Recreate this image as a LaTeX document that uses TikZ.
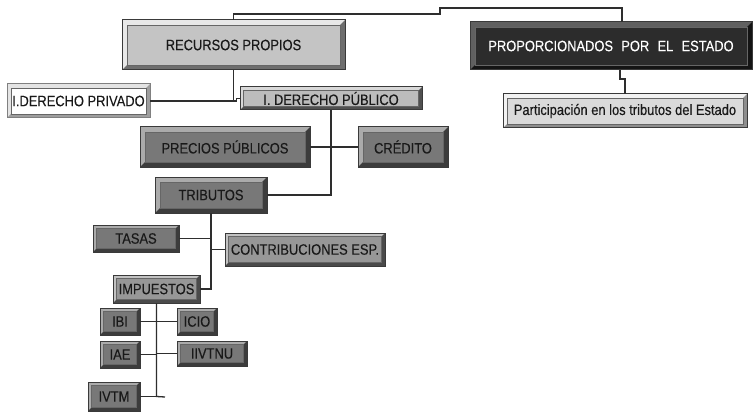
\documentclass[tikz,border=0pt]{standalone}
\usepackage{fontspec}
\setmainfont{Liberation Sans}[FakeStretch=0.86,FakeBold=0.3]
\definecolor{lineC}{HTML}{2E2E2E}
\definecolor{edgeC}{HTML}{3A3A3A}
\tikzset{
  bw/.code={\def\bw{#1}}, bw=5pt,
  box/.style={rectangle, inner sep=0pt, outer sep=0pt, text=black!90,
    font=\fontsize{15}{17}\selectfont, draw=edgeC, line width=1pt},
  bev/.style n args={3}{fill=#1,
    path picture={
      \path (path picture bounding box.south west) coordinate (bsw)
            (path picture bounding box.north east) coordinate (bne);
      \path (bsw -| bne) coordinate (bse);
      \fill[#2] (bsw) rectangle (bne);
      \fill[#3] (bsw) -- (bse) -- (bne) -- ([shift={(-\bw,-\bw)}]bne)
            -- ([shift={(-\bw,\bw)}]bse) -- ([shift={(\bw,\bw)}]bsw) -- cycle;
      \fill[#1] ([shift={(\bw,\bw)}]bsw) rectangle ([shift={(-\bw,-\bw)}]bne);
      \draw[black!60, line width=0.6pt] ([shift={(\bw,\bw)}]bsw) rectangle ([shift={(-\bw,-\bw)}]bne);
    }},
  grpA/.style={bev={rpF}{rpL}{rpD}},
  grpE/.style={bev={peF}{peL}{peD}, text=white},
  grpP/.style={bev={paF}{paL}{paD}, bw=4pt},
  grpV/.style={bev={white}{pvL}{pvD}, draw=black!50, bw=4pt},
  grpU/.style={bev={puF}{puL}{puD}, bw=3.5pt},
  grpM/.style={bev={mdF}{mdL}{mdD}},
  grpS/.style={bev={mdF}{mdL}{mdD}, bw=3.5pt},
  grpC/.style={bev={ltF}{ltL}{ltD}, bw=3.5pt},
  link/.style={draw=lineC, line width=1.3pt}
}
\definecolor{rpF}{HTML}{C4C4C4}\definecolor{rpL}{HTML}{E8E8E8}\definecolor{rpD}{HTML}{6E6E6E}
\definecolor{peF}{HTML}{2C2C2C}\definecolor{peL}{HTML}{606060}\definecolor{peD}{HTML}{141414}
\definecolor{paF}{HTML}{DADADA}\definecolor{paL}{HTML}{F2F2F2}\definecolor{paD}{HTML}{8E8E8E}
\definecolor{pvL}{HTML}{E4E4E4}\definecolor{pvD}{HTML}{9E9E9E}
\definecolor{puF}{HTML}{BCBCBC}\definecolor{puL}{HTML}{D8D8D8}\definecolor{puD}{HTML}{505050}
\definecolor{mdF}{HTML}{787878}\definecolor{mdL}{HTML}{ABABAB}\definecolor{mdD}{HTML}{3C3C3C}
\definecolor{ltF}{HTML}{979797}\definecolor{ltL}{HTML}{C2C2C2}\definecolor{ltD}{HTML}{4A4A4A}
\newcommand\bxn[7]{\node[box,#6,minimum width={#4-#2},minimum height={#5-#3}]
  (#1) at ({(#2+#4)/2},{(#3+#5)/2}) {#7};}
\begin{document}
\begin{tikzpicture}[x=1pt,y=-1pt]
\fill[white] (0,0) rectangle (756,412);
\useasboundingbox (0,0) rectangle (756,412);
\bxn{rp}{122}{20}{345}{70}{grpA}{RECURSOS PROPIOS}
\bxn{pe}{470}{22}{752}{70}{grpE}{PROPORCIONADOS\hspace{0.55em}POR\hspace{0.55em}EL\hspace{0.55em}ESTADO}
\bxn{pa}{503}{94}{747}{128}{grpP}{Participación en los tributos del Estado}
\bxn{priv}{7}{84}{150}{118}{grpV}{I.DERECHO PRIVADO}
\bxn{pub}{240}{87}{422}{110}{grpU}{I. DERECHO PÚBLICO}
\bxn{pp}{140}{127}{310}{167}{grpM}{PRECIOS PÚBLICOS}
\bxn{cr}{358}{127}{448}{167}{grpM}{CRÉDITO}
\bxn{tr}{155}{177}{267}{213}{grpM}{TRIBUTOS}
\bxn{ta}{93}{225}{179}{252}{grpS}{TASAS}
\bxn{ce}{225}{233}{385}{266}{grpC}{CONTRIBUCIONES ESP.}
\bxn{im}{113}{275}{200}{303}{grpC}{IMPUESTOS}
\bxn{ibi}{100}{308}{140}{335}{grpS}{IBI}
\bxn{icio}{177}{308}{217}{335}{grpS}{ICIO}
\bxn{iae}{100}{341}{140}{368}{grpS}{IAE}
\bxn{iivtnu}{177}{341}{247}{366}{grpS}{IIVTNU}
\bxn{ivtm}{88}{382}{140}{411}{grpS}{IVTM}
% connectors
\coordinate (t1) at (233.5,14);
\coordinate (t2) at (440,14);
\coordinate (t3) at (440,8);
\coordinate (t4) at (622,8);
\draw[link] (rp.north) -- (t1) -- (t2) -- (t3) -- (t4) -- (t4 |- pe.north);
\coordinate (p1) at (620,79);
\coordinate (p2) at (625,79);
\draw[link] (p1 |- pe.south) -- (p1) -- (p2) -- (pa.north);
\draw[link] (rp.south) |- (priv.east);
\draw[link] (rp.south |- priv.east) -- ++(3,0) |- (pub.west);
\draw[link] (pub.south) |- (tr.east);
\draw[link] (pp.east) -- (cr.west);
\draw[link] (tr.south) |- (im.east);
\draw[link] (ta.east) -- (ta.east -| tr.south);
\draw[link] (ce.west -| tr.south) -- (ce.west);
\coordinate (s1) at (165,397);
\draw[link] (im.south) -- (im.south |- ivtm.east) -- (s1);
\draw[link] (ivtm.east) -- (ivtm.east -| im.south);
\draw[link] (ibi.east) -- (icio.west);
\draw[link] (iae.east) -- (iae.east -| im.south);
\draw[link] (iivtnu.west -| im.south) -- (iivtnu.west);
\end{tikzpicture}
\end{document}
